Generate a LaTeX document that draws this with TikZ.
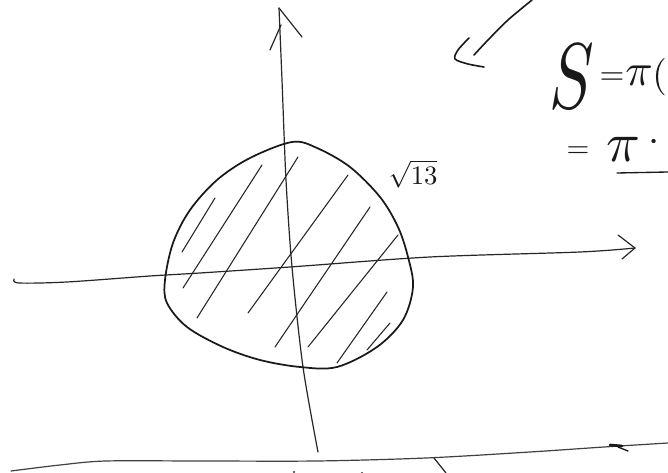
\documentclass[tikz,border=0pt]{standalone}
\begin{document}
\begin{tikzpicture}[x=0.75pt,y=-0.75pt, line cap=round, line join=round,
  axispen/.style={draw=black!85, line width=0.9pt},
  blobpen/.style={draw=black!90, line width=1.3pt},
  hatchpen/.style={draw=black!85, line width=0.8pt},
  inkpen/.style={draw=black!90, line width=1.2pt},
  hand/.style={inner sep=0pt, outer sep=0pt, text=black!90}]
\useasboundingbox (0,0) rectangle (668,473);
\fill[white] (0,0) rectangle (668,473);

% y-axis with hand arrowhead
\draw[axispen] plot[smooth] coordinates {(279,8) (282,80) (286,180) (292,267) (303,367) (318,452)};
\draw[axispen] (281,25) -- (270,50);
\draw[axispen] (279,8) -- (302,37);

% x-axis with hand arrowhead
\draw[axispen] plot[smooth] coordinates {(14,279) (19,283) (67,282) (150,276) (200,273) (290,267) (430,257) (580,252) (635,248)};
\draw[axispen] (618,235) -- (635,248) -- (622,259);

% region boundary
\draw[blobpen] plot[smooth cycle, tension=0.55] coordinates {
  (292,142) (250,158) (217,180) (190,210) (173,243) (165,280) (167,303)
  (187,327) (223,347) (260,360) (300,367) (337,367) (377,347) (403,320)
  (413,287) (408,257) (398,227) (380,197) (350,167) (317,148)};

% hatching
\draw[hatchpen] (215,198) -- (182,252);
\draw[hatchpen] (262,165) -- (183,288);
\draw[hatchpen] (298,157) -- (197,318);
\draw[hatchpen] (348,175) -- (248,313);
\draw[hatchpen] (370,207) -- (275,347);
\draw[hatchpen] (398,235) -- (308,347);
\draw[hatchpen] (387,292) -- (337,363);
\draw[hatchpen] (390,323) -- (367,350);

% radius label
\node[hand, scale=2] (rad) at (413,174) {$\sqrt{13}$};

% top-right arrow
\draw[inkpen] plot[smooth] coordinates {(532,0) (508,20) (488,40) (474,55)};
\draw[inkpen] plot[smooth] coordinates {(469,38) (458,50) (455,59) (468,64) (484,67)};

% top-right formula
\node[hand, xscale=5, yscale=7] (S) at (572,77) {$S$};
\node[hand, scale=2.4] (eqa) at (612,79) {$=$};
\node[hand, scale=3.4] (pia) at (639,76) {$\pi$};
\node[hand, scale=2.8, anchor=east] (para) at (667,77) {$($};

\node[hand, scale=2.2] (eqb) at (578,152) {$=$};
\node[hand, scale=4.2] (pib) at (623,149) {$\pi$};
\node[hand, scale=3] (dotb) at (654,143) {$\cdot$};
\draw[inkpen, line width=1pt] (617,173) -- (668,172);

% bottom line
\draw[axispen, draw=black!75] plot[smooth] coordinates {(11,471) (60,465) (106,461) (200,461) (317,461) (426,458) (530,452) (604,447) (668,443)};
\draw[inkpen, line width=2pt] (610,445) -- (622,446);
\draw[inkpen, line width=1pt] (618,447) -- (628,451);
\draw[axispen] (434,458) -- (446,473);
\fill[black!80] (294,472) circle (1.2);
\fill[black!80] (362,473) circle (1.2);
\end{tikzpicture}
\end{document}
